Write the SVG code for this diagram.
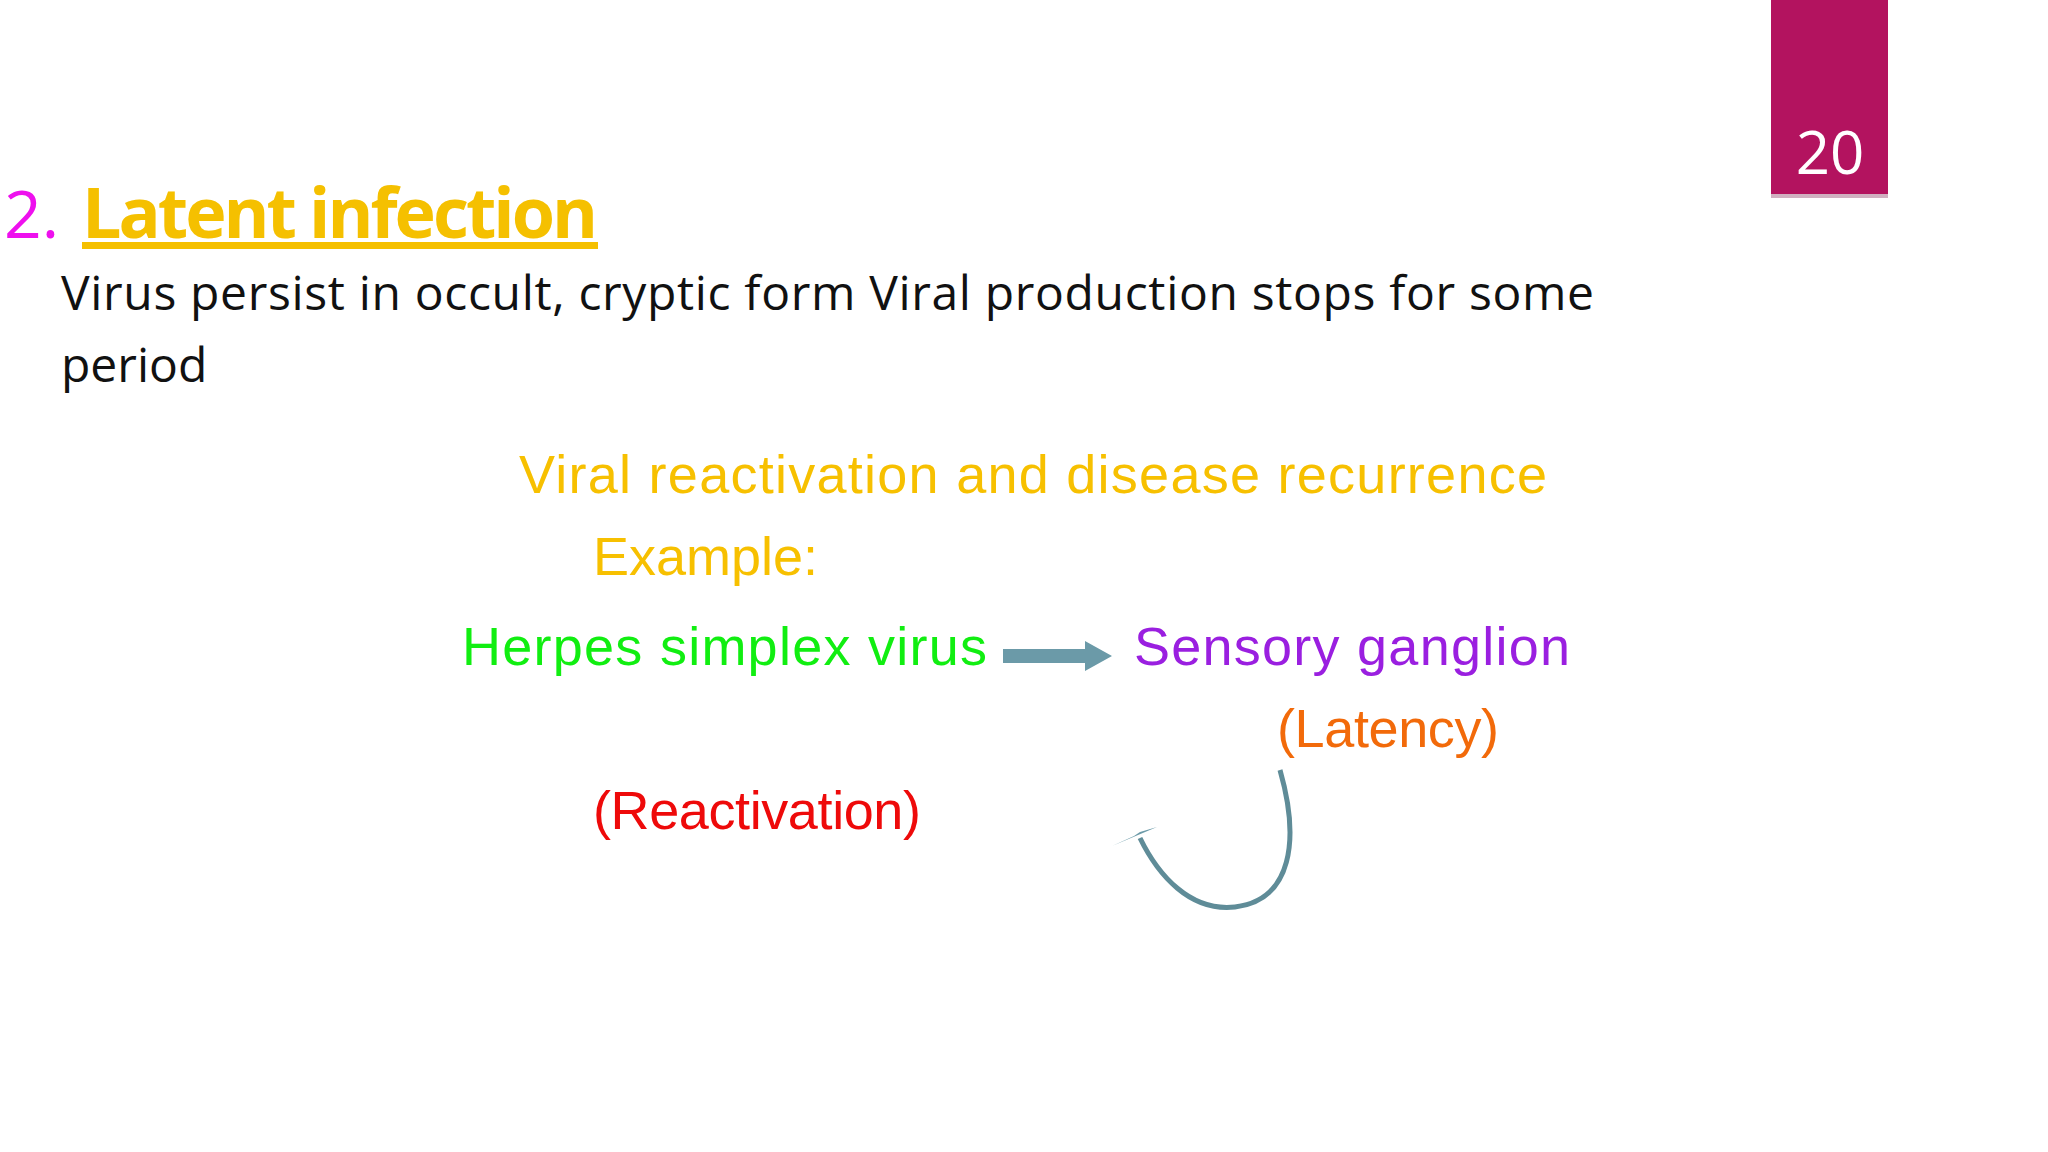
<svg xmlns="http://www.w3.org/2000/svg" width="2048" height="1152" viewBox="0 0 2048 1152">
<style>
.a{font-family:"Liberation Sans",Arial,sans-serif;font-size:54px}
.s{font-family:"Open Sans","Noto Sans",sans-serif}
</style>
<rect width="2048" height="1152" fill="#fff"/>
<g id="badge"><rect x="1771" y="2" width="117" height="196" fill="#d0b0c0"/><rect x="1771" y="0" width="117" height="194" fill="#b3135f"/><text x="1830" y="174" class="s" font-size="60" fill="#fff" text-anchor="middle">20</text></g>
<g id="title"><text x="4" y="238" class="s" font-size="66" fill="#ee10ee">2.</text><text x="82" y="238" class="s" font-size="70" font-weight="bold" fill="#f5c000" textLength="516" text-decoration="underline">Latent infection</text></g>
<g id="body" class="s" font-size="48" fill="#111"><text x="61" y="310" textLength="1533">Virus persist in occult, cryptic form  Viral production stops for some</text><text x="61" y="382">period</text></g>
<g id="heading"><text x="519" y="493" class="a" fill="#f7c000" textLength="1028">Viral reactivation and disease recurrence</text><text x="593" y="575" class="a" fill="#f7c000">Example:</text></g>
<g id="hsv"><text x="462" y="665" class="a" fill="#11ee11" textLength="525">Herpes simplex virus</text></g>
<g id="ganglion"><text x="1134" y="665" class="a" fill="#9a1fe0" textLength="436">Sensory ganglion</text></g>
<g id="latency"><text x="1277" y="747" class="a" fill="#f26a0a" textLength="222">(Latency)</text></g>
<g id="reactivation"><text x="593" y="829" class="a" fill="#ee0a0a" textLength="328">(Reactivation)</text></g>
<g id="connectors" fill="#6b9aa8">
<polygon points="1003,649 1085,649 1085,641 1112,656 1085,671 1085,663 1003,663"/>
<path d="M1280 770 C1300 840 1292 900 1235 907 C1190 912 1158 875 1140 838" fill="none" stroke="#5f8c98" stroke-width="5"/>
<polygon points="1112,846 1157,827 1140,832 1134,836"/>
</g>
</svg>
